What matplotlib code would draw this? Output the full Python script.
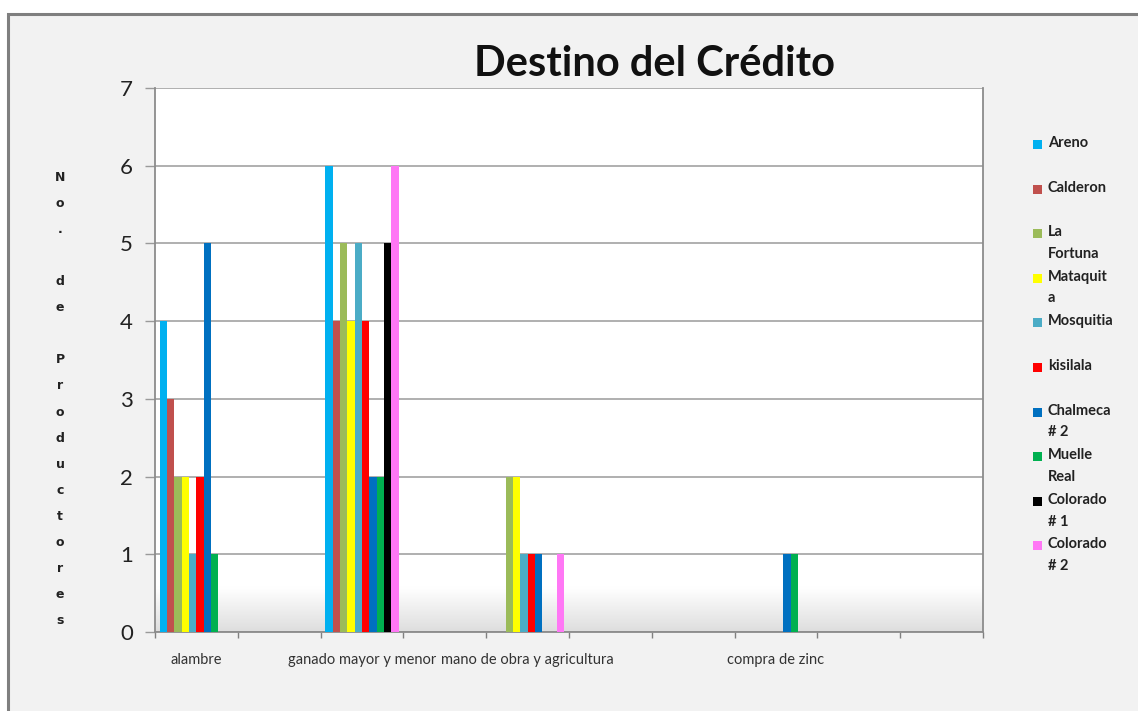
import numpy as np
import matplotlib
matplotlib.use("Agg")
import matplotlib.pyplot as plt
from matplotlib.patches import Rectangle

# categories (blank names are empty slots on the category axis)
categorias = ['alambre', '', 'ganado mayor y menor', '', 'mano de obra y agricultura',
              '', '', 'compra de zinc', '', '']

comunidades = ['Areno', 'Calderon', 'La Fortuna', 'Mataquita', 'Mosquitia', 'kisilala',
               'Chalmeca # 2', 'Muelle Real', 'Colorado # 1', 'Colorado # 2']
etiquetas = ['Areno', 'Calderon', 'La\nFortuna', 'Mataquit\na', 'Mosquitia', 'kisilala',
             'Chalmeca\n# 2', 'Muelle\nReal', 'Colorado\n# 1', 'Colorado\n# 2']

areno     = [4, 0, 6, 0, 0, 0, 0, 0, 0, 0]
calderon  = [3, 0, 4, 0, 0, 0, 0, 0, 0, 0]
fortuna   = [2, 0, 5, 0, 2, 0, 0, 0, 0, 0]
mataquita = [2, 0, 4, 0, 2, 0, 0, 0, 0, 0]
mosquitia = [1, 0, 5, 0, 1, 0, 0, 0, 0, 0]
kisilala  = [2, 0, 4, 0, 1, 0, 0, 0, 0, 0]
chalmeca  = [5, 0, 2, 0, 1, 0, 0, 1, 0, 0]
muelle    = [1, 0, 2, 0, 0, 0, 0, 1, 0, 0]
colorado1 = [0, 0, 5, 0, 0, 0, 0, 0, 0, 0]
colorado2 = [0, 0, 6, 0, 1, 0, 0, 0, 0, 0]

series = [areno, calderon, fortuna, mataquita, mosquitia, kisilala,
          chalmeca, muelle, colorado1, colorado2]
colores = ['#00B0F0', '#C0504D', '#9BBB59', '#FFFF00', '#4BACC6', '#FF0000',
           '#0070C0', '#00B050', '#000000', '#FF77F5']

W, H = 1138, 711
fig = plt.figure(figsize=(W / 100, H / 100), dpi=100, facecolor='white')

# chart area frame
fig.patches.append(Rectangle((8 / W, -0.05), 1.1, 1 - 14 / H + 0.05, transform=fig.transFigure,
                             facecolor='#F2F2F2', edgecolor='#7F7F7F', linewidth=2.2, zorder=-5))

ax = fig.add_axes([155 / W, 79 / H, 828 / W, 544 / H])
ax.set_facecolor('white')

# soft shading at the bottom of the plot area
grad = np.linspace(0, 1, 256)
grad = np.clip(grad / 0.08, 0, 1)
shade = np.ones((256, 1, 3))
for k in range(3):
    shade[:, 0, k] = 0.87 + 0.13 * grad
ax.imshow(shade, extent=[0, 1, 0, 1], transform=ax.transAxes, aspect='auto',
          origin='lower', zorder=0, interpolation='bilinear')

n = len(series)
ancho = 1 / (n + 1.34)
x = np.arange(len(categorias))
for i, (vals, col) in enumerate(zip(series, colores)):
    ax.bar(x + (i - (n - 1) / 2) * ancho, vals, width=ancho, color=col,
           linewidth=0, zorder=3, label=comunidades[i])

ax.set_xlim(-0.5, len(categorias) - 0.5)
ax.set_ylim(0, 7)
ax.set_yticks(range(8))
ax.yaxis.grid(True, color='#9A9A9A', linewidth=1.1, zorder=1)
ax.set_axisbelow(True)

ax.set_xticks(np.arange(len(categorias) + 1) - 0.5)
ax.set_xticklabels([])
ax.set_xticks(x, minor=True)
ax.set_xticklabels(categorias, minor=True, fontsize=10.5, color='#333333', family='Lato')
ax.tick_params(axis='x', which='minor', length=0, pad=15)
ax.tick_params(axis='x', which='major', length=4, color='#808080', width=1)
ax.tick_params(axis='y', length=7, color='#9A9A9A', width=1, pad=9,
               labelsize=16, labelcolor='#222222')
for lab in ax.get_yticklabels():
    lab.set_family('Lato')

ax.spines['top'].set_visible(False)
for s in ['left', 'right', 'bottom']:
    ax.spines[s].set_color('#8C8C8C')
    ax.spines[s].set_linewidth(1.3)

fig.text(654 / W, 1 - 64 / H, 'Destino del Crédito', ha='center', va='center',
         fontsize=30, fontweight='bold', family='Lato', color='#111111')

# vertical stacked axis title
titulo_y = '\n'.join('No. de Productores')
fig.text(60 / W, 1 - 399 / H, titulo_y, ha='center', va='center', fontsize=9,
         fontweight='bold', family='DejaVu Sans', linespacing=2.31, color='#222222')

# legend drawn as squares and text entries
for i, (lab, col) in enumerate(zip(etiquetas, colores)):
    ytop = 136 + i * 44.6
    fig.patches.append(Rectangle((1033 / W, 1 - (ytop + 13) / H), 9 / W, 9 / H,
                                 transform=fig.transFigure, facecolor=col,
                                 edgecolor='none', zorder=5))
    fig.text(1048 / W, 1 - ytop / H, lab, ha='left', va='top', fontsize=10.5,
             fontweight='bold', family='Lato', linespacing=1.7, color='#222222')

fig.savefig('out.png', dpi=100, facecolor=fig.get_facecolor())
